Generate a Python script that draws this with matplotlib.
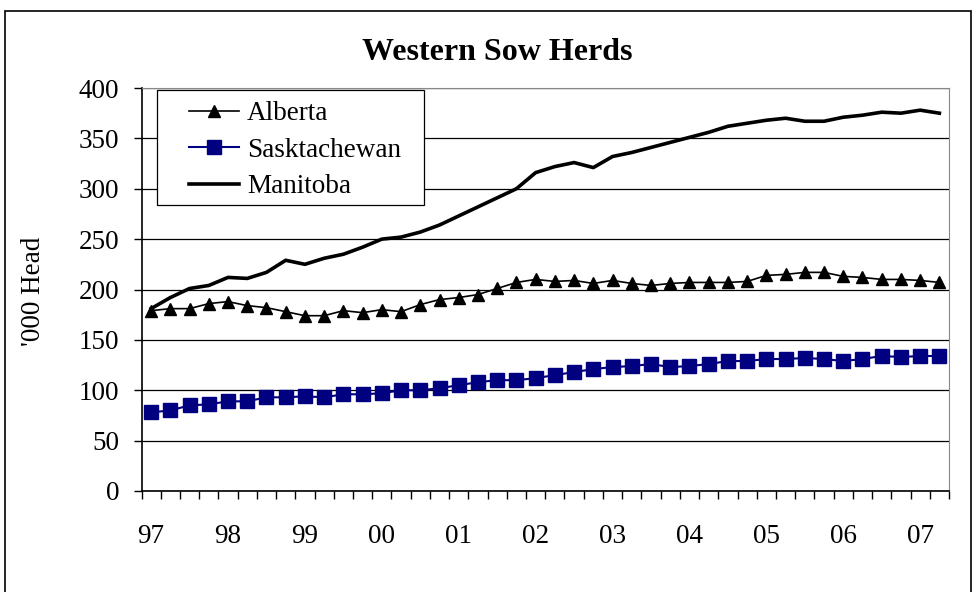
import matplotlib
matplotlib.use("Agg")
import matplotlib.pyplot as plt
from matplotlib.patches import Rectangle
import numpy as np

# quarterly sow herds, '000 head, 1997 Q1 .. 2007 Q2
quarters = ['97Q1', '97Q2', '97Q3', '97Q4', '98Q1', '98Q2', '98Q3', '98Q4',
            '99Q1', '99Q2', '99Q3', '99Q4', '00Q1', '00Q2', '00Q3', '00Q4',
            '01Q1', '01Q2', '01Q3', '01Q4', '02Q1', '02Q2', '02Q3', '02Q4',
            '03Q1', '03Q2', '03Q3', '03Q4', '04Q1', '04Q2', '04Q3', '04Q4',
            '05Q1', '05Q2', '05Q3', '05Q4', '06Q1', '06Q2', '06Q3', '06Q4',
            '07Q1', '07Q2']
year_labels = ['97', '98', '99', '00', '01', '02', '03', '04', '05', '06', '07']

alberta = [179, 181, 181, 186, 188, 184, 182, 178, 174, 174, 179, 177,
           180, 178, 185, 190, 192, 195, 201, 207, 210, 208, 209, 206,
           209, 206, 204, 206, 207, 207, 207, 208, 214, 215, 217, 217,
           213, 212, 210, 210, 209, 207]
saskatchewan = [78, 80, 85, 86, 89, 89, 93, 93, 94, 93, 96, 96,
                97, 100, 100, 102, 105, 108, 110, 110, 112, 115, 118, 121,
                123, 124, 126, 123, 124, 126, 129, 129, 131, 131, 132, 131,
                129, 131, 134, 133, 134, 134]
manitoba = [181, 192, 201, 204, 212, 211, 217, 229, 225, 231, 235, 242,
            250, 252, 257, 264, 273, 282, 291, 300, 316, 322, 326, 321,
            332, 336, 341, 346, 351, 356, 362, 365, 368, 370, 367, 367,
            371, 373, 376, 375, 378, 375]

plt.rcParams['font.family'] = ['Liberation Serif', 'DejaVu Serif']
W, H = 974, 592
fs = 19.5

fig = plt.figure(figsize=(W/100, H/100), dpi=100)
# outer chart border (runs off the bottom of the picture)
fig.patches.append(Rectangle((5/W, -0.1), 966/W, 1.1 - 11/H, transform=fig.transFigure,
                             fill=False, edgecolor='black', linewidth=1.2))

ax = fig.add_axes([141.5/W, 1 - 491/H, 807.5/W, 403/H])
x = np.arange(len(quarters))

ax.plot(x, alberta, color='black', linewidth=1.2, marker='^', markersize=8,
        label='Alberta')
ax.plot(x, saskatchewan, color='#000080', linewidth=1.5, marker='s', markersize=10,
        label='Sasktachewan')
ax.plot(x, manitoba, color='black', linewidth=2.6, label='Manitoba')

ax.set_xlim(-0.5, len(quarters) - 0.5)
ax.set_ylim(0, 400)
ax.set_yticks(range(0, 401, 50))
ax.yaxis.grid(True, color='black', linewidth=0.9)
ax.set_axisbelow(True)

ax.set_xticks(np.arange(-0.5, len(quarters), 1))
ax.set_xticklabels([])
ax.set_xticks(np.arange(0, len(quarters), 4), minor=True)
ax.set_xticklabels(year_labels, minor=True)
ax.tick_params(axis='x', which='major', direction='out', length=6, width=1)
ax.tick_params(axis='x', which='minor', length=0, pad=24, labelsize=fs)
ax.tick_params(axis='y', direction='out', length=6, width=1, pad=10, labelsize=fs)

for side in ['top', 'right']:
    ax.spines[side].set_color('#888888')
for side in ['left', 'bottom']:
    ax.spines[side].set_linewidth(1.2)

fig.text(33/W, 1 - 291/H, "'000 Head", fontsize=fs, rotation=90,
         ha='center', va='center')
fig.text(497/W, 1 - 52/H, 'Western Sow Herds', fontsize=23, fontweight='bold',
         ha='center', va='center')

# legend: frame drawn separately so the inner padding can match
fig.patches.append(Rectangle((157/W, 1 - 205/H), 267/W, 115/H, transform=fig.transFigure,
                             facecolor='white', edgecolor='black', linewidth=0.9,
                             zorder=5))
leg = fig.legend(loc='upper left', bbox_to_anchor=(189/W, 1 - 101/H), fontsize=fs,
                 frameon=False, handlelength=1.85, handletextpad=0.3,
                 borderpad=0, borderaxespad=0, labelspacing=0.43)
leg.set_zorder(6)

fig.savefig('out.png', dpi=100)
